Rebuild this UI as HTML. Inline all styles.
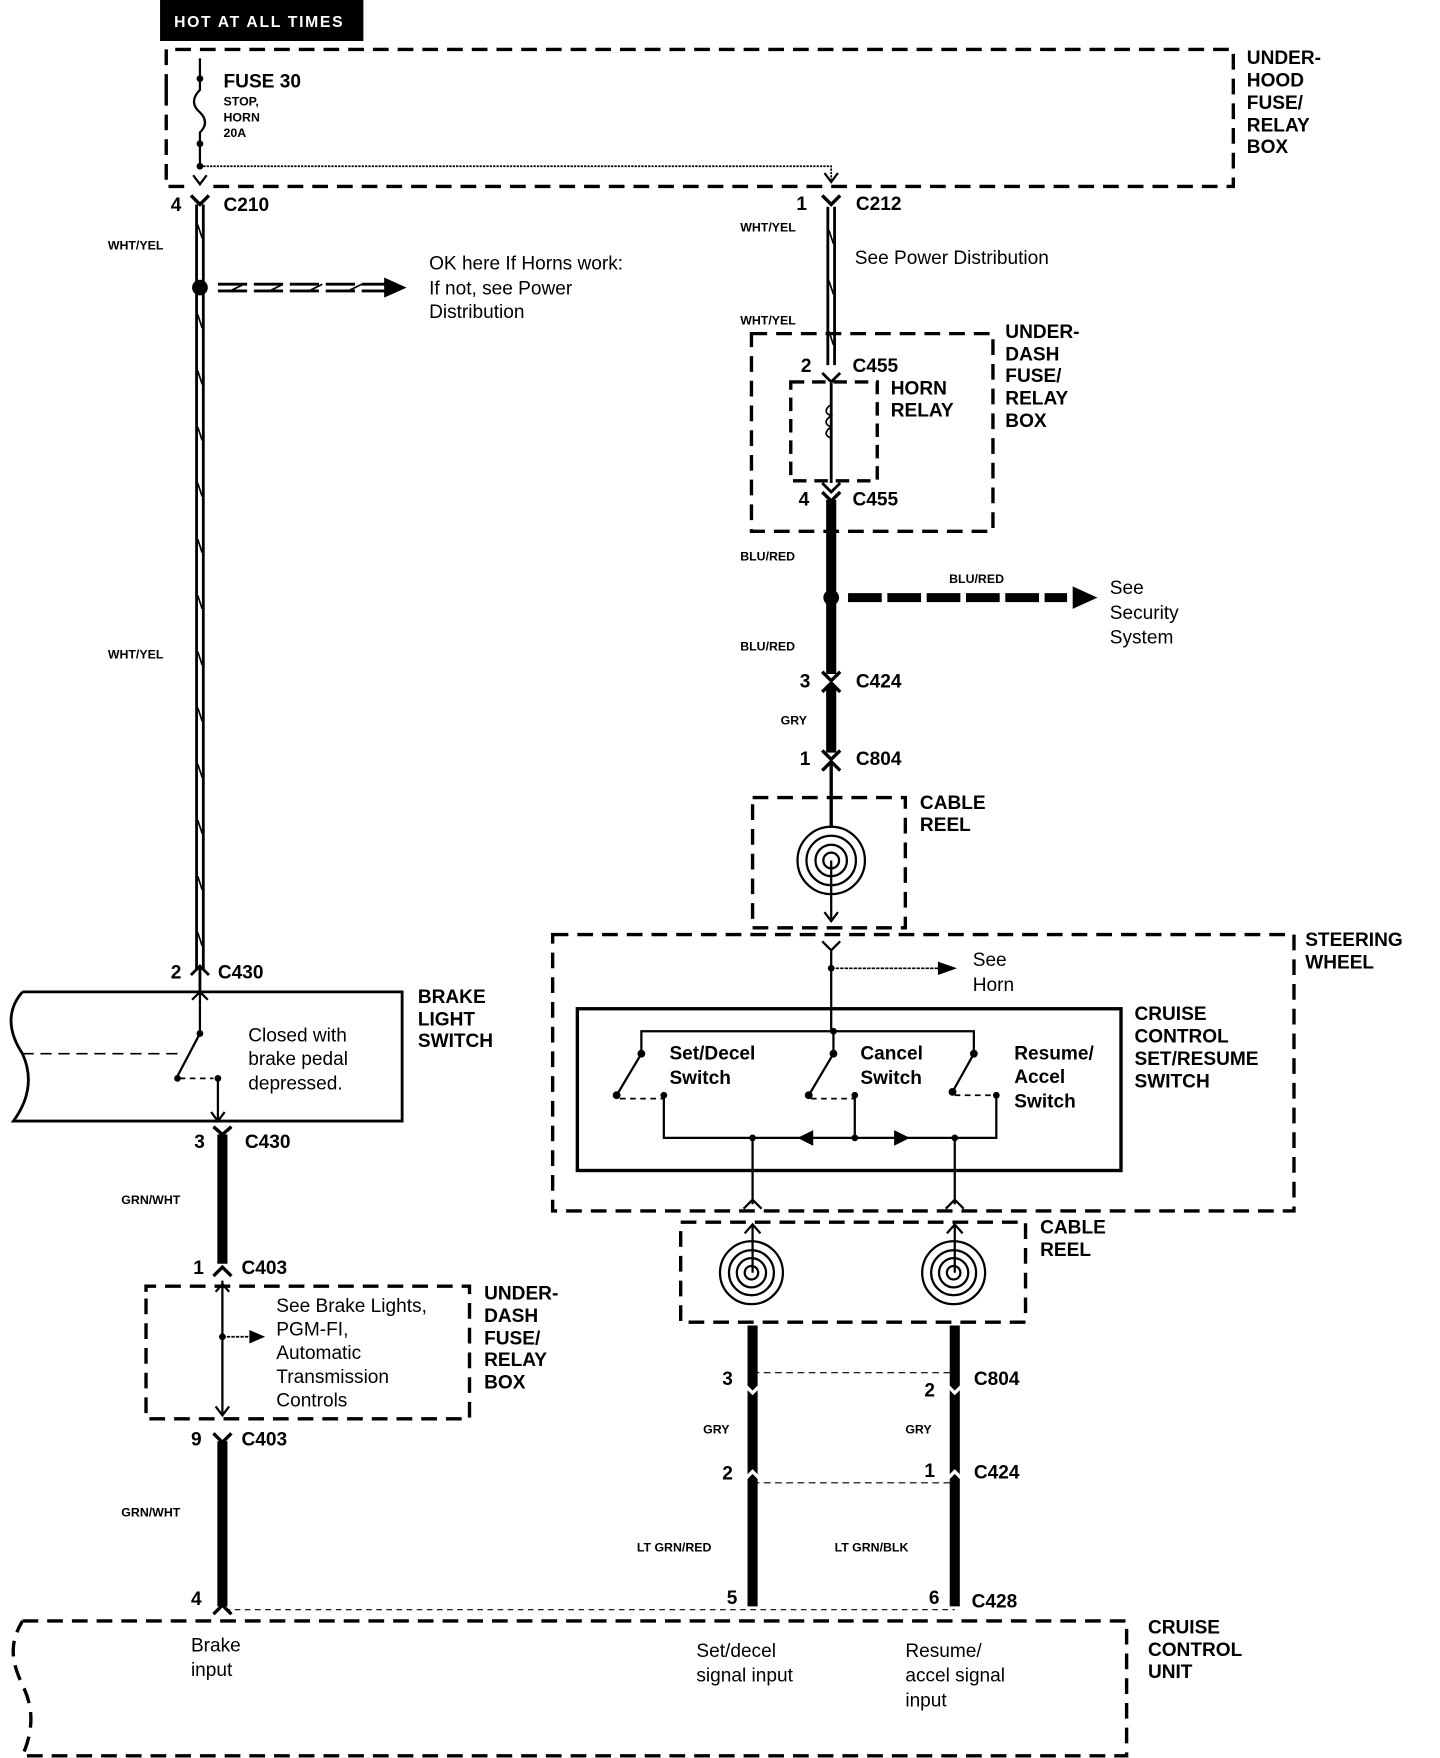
<!DOCTYPE html>
<html><head><meta charset="utf-8"><style>
html,body{margin:0;padding:0;background:#fff;}
svg{display:block;}
text{font-family:"Liberation Sans",Arial,sans-serif;fill:#000;}
.b{font-weight:bold;font-size:17px;}
.s{font-weight:bold;font-size:11px;}
.n{font-size:17px;}
</style></head><body>
<svg width="1440" height="1758" viewBox="0 0 1282 1565" preserveAspectRatio="none" xmlns="http://www.w3.org/2000/svg">
<g fill="none" stroke="#000">
<rect x="143" y="0" width="180" height="36" fill="#000"/>
<path d="M148 80 V44 H1098 V166 H190 M148 80 V166 H165" stroke-width="3" stroke-dasharray="14 8"/>
<path d="M178 52 V80 C170 88,172 95,178 100 C184 106,184 112,178 118 V150" stroke-width="2"/>
<path d="M178 148 H740 V162" stroke-width="1.5" stroke-dasharray="2 1"/>
<path d="M172 156 L178 164 L184 156 M734 154 L740 162 L746 154" stroke-width="2"/>
<path d="M170 174 L178 182 L186 174" stroke-width="3"/>
<path d="M732 174 L740 182 L748 174" stroke-width="3"/>
<path d="M175 182 V863 M181 182 V863" stroke-width="2.5"/>
<path d="M176 200 l4 12 M176 280 l4 12 M176 330 l4 12 M176 380 l4 12 M176 430 l4 12 M176 480 l4 12 M176 530 l4 12 M176 580 l4 12 M176 630 l4 12 M176 680 l4 12 M176 730 l4 12 M176 780 l4 12 M176 830 l4 12" stroke-width="1.5"/>
<path d="M194 253 H345 M194 259 H345" stroke-width="2.5" stroke-dasharray="26 6"/>
<path d="M205 259 l12 -6 M240 259 l12 -6 M275 259 l12 -6 M310 259 l12 -6" stroke-width="1.5"/>
<path d="M170 868 L178 860 L186 868 M178 860 V882" stroke-width="2.5"/>
<path d="M20 883 H358 V998 H12 C25 980,30 960,20 938 C8 920,5 900,20 883" stroke-width="2.5"/>
<path d="M20 938 H160" stroke-width="1.5" stroke-dasharray="10 6"/>
<path d="M178 883 V920 L158 958" stroke-width="2"/>
<path d="M160 960 H190" stroke-width="1.5" stroke-dasharray="5 4"/>
<path d="M194 958 V998 M188 990 L194 998 L200 990 M171 890 L178 883 L185 890" stroke-width="2"/>
<path d="M198 1010 V1125" stroke-width="9"/>
<path d="M190 1003 L198 1010 L206 1003 M190 1136 L198 1128 L206 1136" stroke-width="3"/>
<path d="M130 1150 V1145 H418 V1263 H130 Z" stroke-width="3" stroke-dasharray="14 8"/>
<path d="M198 1140 V1260 M192 1150 L198 1143 L204 1150 M192 1252 L198 1260 L204 1252" stroke-width="2"/>
<path d="M198 1190 H225" stroke-width="1.5" stroke-dasharray="3 1"/>
<path d="M198 1283 V1430" stroke-width="9"/>
<path d="M190 1276 L198 1284 L206 1276 M190 1437 L198 1429 L206 1437" stroke-width="3"/>
<path d="M200 1433 H850" stroke-width="1" stroke-dasharray="5 4"/>
<path d="M20 1443 H1003 V1563 H20 C30 1540,30 1520,20 1500 C8 1475,10 1460,20 1443" stroke-width="3" stroke-dasharray="14 8"/>
<path d="M737 184 V325 M743 184 V325" stroke-width="2.5"/>
<path d="M738 205 l4 12 M738 250 l4 12 M738 295 l4 12" stroke-width="1.5"/>
<path d="M669 297 H884 V473 H669 Z" stroke-width="3" stroke-dasharray="14 8"/>
<path d="M732 332 L740 340 L748 332 M740 340 V430" stroke-width="2.5"/>
<path d="M704 340 H781 V428 H704 Z" stroke-width="3" stroke-dasharray="12 7"/>
<path d="M740 360 c-6 4,-6 8,0 10 c-6 4,-6 8,0 10 c-6 4,-6 8,0 10" stroke-width="1.5"/>
<path d="M732 430 L740 438 L748 430" stroke-width="2.5"/>
<path d="M740 445 V600" stroke-width="9"/>
<path d="M732 438 L740 446 L748 438" stroke-width="3"/>
<path d="M755 532 H950" stroke-width="8" stroke-dasharray="30 5"/>
<path d="M732 598 L740 606 L748 598 M732 616 L740 608 L748 616" stroke-width="3"/>
<path d="M740 610 V670" stroke-width="9"/>
<path d="M732 668 L740 676 L748 668 M732 686 L740 678 L748 686" stroke-width="3"/>
<path d="M740 680 V736" stroke-width="3"/>
<path d="M670 710 H806 V826 H670 Z" stroke-width="3" stroke-dasharray="14 8"/>
<path d="M740 766 V818 M734 812 L740 820 L746 812" stroke-width="2"/>
<path d="M492 832 H1152 V1078 H492 Z" stroke-width="3" stroke-dasharray="14 8"/>
<path d="M732 838 L740 846 L748 838 M740 846 V918" stroke-width="2"/>
<path d="M740 862 H835" stroke-width="1.5" stroke-dasharray="3 1"/>
<rect x="514" y="898" width="484" height="144" stroke-width="3"/>
<path d="M571 938 V918 H867 V938 M742 918 V938" stroke-width="2"/>
<path d="M571 938 L549 975 M742 938 L720 975 M867 938 L848 972" stroke-width="2"/>
<path d="M552 978 H590 M722 978 H760 M850 975 H886" stroke-width="1.5" stroke-dasharray="5 4"/>
<path d="M591 975 V1013 H887 V975 M761 975 V1013 M670 1013 V1072 M850 1013 V1072" stroke-width="2"/>
<path d="M662 1076 L670 1068 L678 1076 M842 1076 L850 1068 L858 1076" stroke-width="2"/>
<path d="M606 1088 H913 V1177 H606 Z" stroke-width="3" stroke-dasharray="14 8"/>
<path d="M670 1133 V1090 M850 1133 V1090 M663 1098 L670 1090 L677 1098 M843 1098 L850 1090 L857 1098" stroke-width="2"/>
<path d="M670 1180 V1430 M850 1180 V1430" stroke-width="9"/>
<path d="M670 1222 H850 M670 1320 H850" stroke-width="1" stroke-dasharray="6 4"/>
<path d="M662 1232 L670 1240 L678 1232 M842 1232 L850 1240 L858 1232 M662 1318 L670 1310 L678 1318 M842 1318 L850 1310 L858 1318" stroke-width="3" stroke="#fff"/>
</g>
<g fill="none" stroke="#000" stroke-width="2">
<circle cx="740" cy="766" r="30"/><circle cx="740" cy="766" r="22"/><circle cx="740" cy="766" r="14"/><circle cx="740" cy="766" r="7"/>
<circle cx="669" cy="1133" r="28"/><circle cx="669" cy="1133" r="20"/><circle cx="669" cy="1133" r="13"/><circle cx="669" cy="1133" r="6"/>
<circle cx="849" cy="1133" r="28"/><circle cx="849" cy="1133" r="20"/><circle cx="849" cy="1133" r="13"/><circle cx="849" cy="1133" r="6"/>
</g>
<g fill="#000">
<circle cx="178" cy="256" r="7"/><circle cx="740" cy="532" r="7"/>
<circle cx="178" cy="70" r="3"/><circle cx="178" cy="128" r="3"/><circle cx="178" cy="148" r="3"/>
<circle cx="178" cy="920" r="3"/><circle cx="158" cy="960" r="3"/><circle cx="194" cy="960" r="3"/><circle cx="198" cy="1190" r="3"/>
<circle cx="740" cy="862" r="3"/><circle cx="742" cy="918" r="3"/>
<circle cx="571" cy="938" r="3.5"/><circle cx="742" cy="938" r="3.5"/><circle cx="867" cy="938" r="3.5"/>
<circle cx="549" cy="975" r="3.5"/><circle cx="720" cy="975" r="3.5"/><circle cx="848" cy="972" r="3.5"/>
<circle cx="591" cy="975" r="3"/><circle cx="761" cy="975" r="3"/><circle cx="887" cy="975" r="3"/>
<circle cx="670" cy="1013" r="3"/><circle cx="761" cy="1013" r="3"/><circle cx="850" cy="1013" r="3"/>
<path d="M342 247 L362 256 L342 265 Z"/><path d="M955 522 L977 532 L955 542 Z"/>
<path d="M835 856 L852 862 L835 868 Z"/><path d="M222 1184 L236 1190 L222 1196 Z"/>
<path d="M710 1013 L724 1006 L724 1020 Z"/><path d="M810 1013 L796 1006 L796 1020 Z"/>
</g>
<text x="155" y="24" style="font-size:14px;font-weight:bold;fill:#fff;letter-spacing:1.5px">HOT AT ALL TIMES</text>
<text class="b" x="199" y="78">FUSE 30</text>
<text class="s" x="199" y="94">STOP,</text><text class="s" x="199" y="108">HORN</text><text class="s" x="199" y="122">20A</text>
<text class="b" x="1110" y="57">UNDER-</text><text class="b" x="1110" y="77">HOOD</text><text class="b" x="1110" y="97">FUSE/</text><text class="b" x="1110" y="117">RELAY</text><text class="b" x="1110" y="136">BOX</text>
<text class="b" x="152" y="188">4</text><text class="b" x="199" y="188">C210</text>
<text class="b" x="709" y="187">1</text><text class="b" x="762" y="187">C212</text>
<text class="s" x="96" y="222">WHT/YEL</text><text class="s" x="96" y="586">WHT/YEL</text>
<text class="s" x="659" y="206">WHT/YEL</text><text class="s" x="659" y="289">WHT/YEL</text>
<text class="n" x="382" y="240">OK here If Horns work:</text><text class="n" x="382" y="262">If not, see Power</text><text class="n" x="382" y="283">Distribution</text>
<text class="n" x="761" y="235">See Power Distribution</text>
<text class="b" x="895" y="301">UNDER-</text><text class="b" x="895" y="321">DASH</text><text class="b" x="895" y="340">FUSE/</text><text class="b" x="895" y="360">RELAY</text><text class="b" x="895" y="380">BOX</text>
<text class="b" x="713" y="331">2</text><text class="b" x="759" y="331">C455</text>
<text class="b" x="793" y="351">HORN</text><text class="b" x="793" y="371">RELAY</text>
<text class="b" x="711" y="450">4</text><text class="b" x="759" y="450">C455</text>
<text class="s" x="659" y="499">BLU/RED</text><text class="s" x="845" y="519">BLU/RED</text><text class="s" x="659" y="579">BLU/RED</text>
<text class="n" x="988" y="529">See</text><text class="n" x="988" y="551">Security</text><text class="n" x="988" y="573">System</text>
<text class="b" x="712" y="612">3</text><text class="b" x="762" y="612">C424</text>
<text class="s" x="695" y="645">GRY</text>
<text class="b" x="712" y="681">1</text><text class="b" x="762" y="681">C804</text>
<text class="b" x="819" y="720">CABLE</text><text class="b" x="819" y="740">REEL</text>
<text class="b" x="1162" y="842">STEERING</text><text class="b" x="1162" y="862">WHEEL</text>
<text class="n" x="866" y="860">See</text><text class="n" x="866" y="882">Horn</text>
<text class="b" x="1010" y="908">CRUISE</text><text class="b" x="1010" y="928">CONTROL</text><text class="b" x="1010" y="948">SET/RESUME</text><text class="b" x="1010" y="968">SWITCH</text>
<text class="b" x="596" y="943">Set/Decel</text><text class="b" x="596" y="965">Switch</text>
<text class="b" x="766" y="943">Cancel</text><text class="b" x="766" y="965">Switch</text>
<text class="b" x="903" y="943">Resume/</text><text class="b" x="903" y="964">Accel</text><text class="b" x="903" y="986">Switch</text>
<text class="b" x="152" y="871">2</text><text class="b" x="194" y="871">C430</text>
<text class="b" x="372" y="893">BRAKE</text><text class="b" x="372" y="913">LIGHT</text><text class="b" x="372" y="932">SWITCH</text>
<text class="n" x="221" y="927">Closed with</text><text class="n" x="221" y="948">brake pedal</text><text class="n" x="221" y="970">depressed.</text>
<text class="b" x="173" y="1022">3</text><text class="b" x="218" y="1022">C430</text>
<text class="s" x="108" y="1072">GRN/WHT</text>
<text class="b" x="172" y="1134">1</text><text class="b" x="215" y="1134">C403</text>
<text class="n" x="246" y="1168">See Brake Lights,</text><text class="n" x="246" y="1189">PGM-FI,</text><text class="n" x="246" y="1210">Automatic</text><text class="n" x="246" y="1231">Transmission</text><text class="n" x="246" y="1252">Controls</text>
<text class="b" x="431" y="1157">UNDER-</text><text class="b" x="431" y="1177">DASH</text><text class="b" x="431" y="1197">FUSE/</text><text class="b" x="431" y="1216">RELAY</text><text class="b" x="431" y="1236">BOX</text>
<text class="b" x="170" y="1287">9</text><text class="b" x="215" y="1287">C403</text>
<text class="s" x="108" y="1350">GRN/WHT</text>
<text class="b" x="170" y="1429">4</text>
<text class="b" x="926" y="1098">CABLE</text><text class="b" x="926" y="1118">REEL</text>
<text class="b" x="643" y="1233">3</text><text class="b" x="823" y="1243">2</text><text class="b" x="867" y="1233">C804</text>
<text class="s" x="626" y="1276">GRY</text><text class="s" x="806" y="1276">GRY</text>
<text class="b" x="643" y="1317">2</text><text class="b" x="823" y="1315">1</text><text class="b" x="867" y="1316">C424</text>
<text class="s" x="567" y="1381">LT GRN/RED</text><text class="s" x="743" y="1381">LT GRN/BLK</text>
<text class="b" x="647" y="1428">5</text><text class="b" x="827" y="1428">6</text><text class="b" x="865" y="1431">C428</text>
<text class="b" x="1022" y="1454">CRUISE</text><text class="b" x="1022" y="1474">CONTROL</text><text class="b" x="1022" y="1494">UNIT</text>
<text class="n" x="170" y="1470">Brake</text><text class="n" x="170" y="1492">input</text>
<text class="n" x="620" y="1475">Set/decel</text><text class="n" x="620" y="1497">signal input</text>
<text class="n" x="806" y="1475">Resume/</text><text class="n" x="806" y="1497">accel signal</text><text class="n" x="806" y="1519">input</text>
</svg>
</body></html>
